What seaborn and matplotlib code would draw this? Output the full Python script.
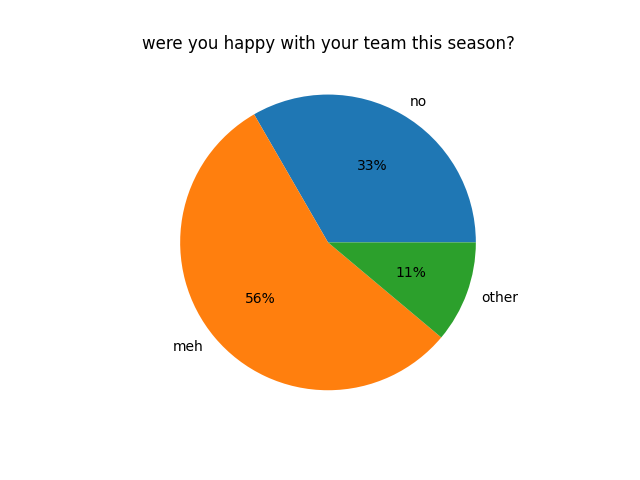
import matplotlib
matplotlib.use("Agg")
import matplotlib.pyplot as plt
import seaborn as sns

# svar på spørsmålet
labels = ["no", "meh", "other"]
counts = [3, 5, 1]

colors = sns.color_palette("tab10", 3)

fig, ax = plt.subplots(figsize=(6.4, 4.8), dpi=100)
ax.pie(counts, labels=labels, colors=colors, autopct="%1.0f%%")
ax.set_title("were you happy with your team this season?")
fig.savefig("out.png")
